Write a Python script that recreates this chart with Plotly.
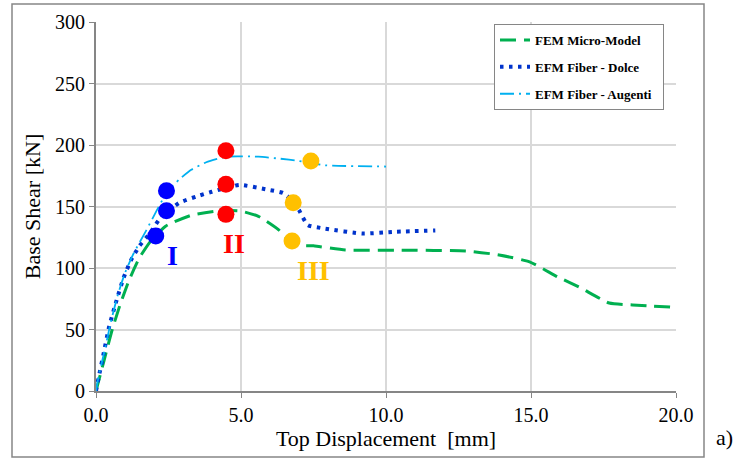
import plotly.graph_objects as go

# FEM Micro-Model
fem_x = [0, 0.28, 0.56, 0.85, 1.14, 1.49, 1.89, 2.4, 3.3, 4.25, 4.95, 5.6, 6.3, 6.8, 7.5, 8.6, 10.5, 12.8, 13.9, 14.95, 15.9, 16.7, 17.7, 18.5, 20.0]
fem_y = [0, 25, 50, 71.5, 90, 108, 122, 134, 143, 146.5, 146.5, 142, 131, 119, 118, 114.6, 114.5, 113.8, 110.6, 105, 93, 84, 71.5, 70, 68]

# EFM Fiber - Dolce
dol_x = [0, 0.1, 0.25, 0.45, 0.7, 0.95, 1.2, 1.5, 1.85, 2.2, 2.87, 3.45, 4.0, 4.95, 5.85, 6.45, 6.75, 7.0, 7.3, 7.9, 9.2, 10.35, 11.7]
dol_y = [0, 12, 29, 52, 73, 92, 106, 118, 128, 140, 153, 158, 162, 167.5, 164, 161, 155, 147, 135, 132, 128, 129.5, 130.5]

# EFM Fiber - Augenti
aug_x = [0, 0.1, 0.3, 0.5, 0.75, 1.0, 1.3, 1.72, 2.1, 2.43, 2.87, 3.3, 3.8, 4.5, 5.6, 6.3, 7.0, 7.9, 10.0]
aug_y = [0, 13, 33, 55, 78, 96, 112, 130, 147, 161, 172, 180, 186, 190.5, 190.5, 189, 187, 183.5, 182.5]

# Stage markers
stage1_x = [2.06, 2.43, 2.43]
stage1_y = [126, 146.6, 162.8]
stage2_x = [4.48, 4.48, 4.48]
stage2_y = [143.6, 168, 195.4]
stage3_x = [6.76, 6.8, 7.41]
stage3_y = [122, 153, 187]

labels = ["I", "II", "III"]
label_x = [2.63, 4.77, 7.5]
label_y = [110, 120, 98]
label_colors = ["#0000FF", "#FF0000", "#FFC000"]

serif = "Liberation Serif"

fig = go.Figure()
fig.add_trace(go.Scatter(x=fem_x, y=fem_y, mode="lines", name="<b>FEM Micro-Model</b>", legendgroup="a",
                         line=dict(color="#00B050", width=3, dash="16px,8px", shape="spline", smoothing=0.5)))
fig.add_trace(go.Scatter(x=dol_x, y=dol_y, mode="lines", name="<b>EFM Fiber - Dolce</b>", legendgroup="b",
                         line=dict(color="#0033CC", width=4, dash="3.5px,5.5px", shape="spline", smoothing=0.5)))
fig.add_trace(go.Scatter(x=aug_x, y=aug_y, mode="lines", name="<b>EFM Fiber - Augenti</b>&nbsp;&nbsp;", legendgroup="c",
                         line=dict(color="#00B0F0", width=1.8, dash="14px,5px,2px,5px", shape="spline", smoothing=0.5)))

for sx, sy, c in [(stage1_x, stage1_y, "#0000FF"), (stage2_x, stage2_y, "#FF0000"), (stage3_x, stage3_y, "#FFC000")]:
    fig.add_trace(go.Scatter(x=sx, y=sy, mode="markers", showlegend=False,
                             marker=dict(color=c, size=17, line=dict(width=0))))

for t, lx, ly, c in zip(labels, label_x, label_y, label_colors):
    fig.add_annotation(x=lx, y=ly, text="<b>%s</b>" % t, showarrow=False,
                       font=dict(family=serif, size=28, color=c))

# outer frame
fig.add_shape(type="rect", xref="paper", yref="paper",
              x0=(12 - 96) / 580, x1=(704 - 96) / 580,
              y0=(391 - 457) / 369, y1=(391 - 4) / 369,
              line=dict(color="#868686", width=1.5), layer="below")

fig.add_annotation(xref="paper", yref="paper", x=(735 - 96) / 580, y=(391 - 452) / 369,
                   xanchor="right", yanchor="bottom", text="a)", showarrow=False,
                   font=dict(family=serif, size=22, color="black"))

fig.update_layout(
    width=734, height=464,
    margin=dict(l=96, r=58, t=22, b=73),
    paper_bgcolor="white", plot_bgcolor="white",
    font=dict(family=serif, color="black"),
    legend=dict(x=(494 - 96) / 580, y=(391 - 24) / 369, xanchor="left", yanchor="top",
                bordercolor="#868686", borderwidth=1, bgcolor="white",
                font=dict(family=serif, size=13, color="black"),
                itemwidth=30, tracegroupgap=7),
    xaxis=dict(range=[0, 20], tickvals=[0, 5, 10, 15, 20], ticktext=["0.0", "5.0", "10.0", "15.0", "20.0"],
               showgrid=True, gridcolor="#D9D9D9", gridwidth=1.5,
               showline=True, linecolor="#868686", linewidth=2,
               ticks="outside", ticklen=5, tickcolor="#868686", zeroline=False,
               tickfont=dict(family=serif, size=20, color="black"),
               title=dict(text="Top Displacement  [mm]", font=dict(family=serif, size=22, color="black"), standoff=1)),
    yaxis=dict(range=[0, 300], tickvals=[0, 50, 100, 150, 200, 250, 300],
               showgrid=True, gridcolor="#D9D9D9", gridwidth=1.5,
               showline=True, linecolor="#868686", linewidth=2,
               ticks="outside", ticklen=5, tickcolor="#868686", zeroline=False,
               tickfont=dict(family=serif, size=20, color="black"),
               title=dict(text="Base Shear [kN]", font=dict(family=serif, size=22, color="black"), standoff=8)),
)

fig.write_html("out.html")
